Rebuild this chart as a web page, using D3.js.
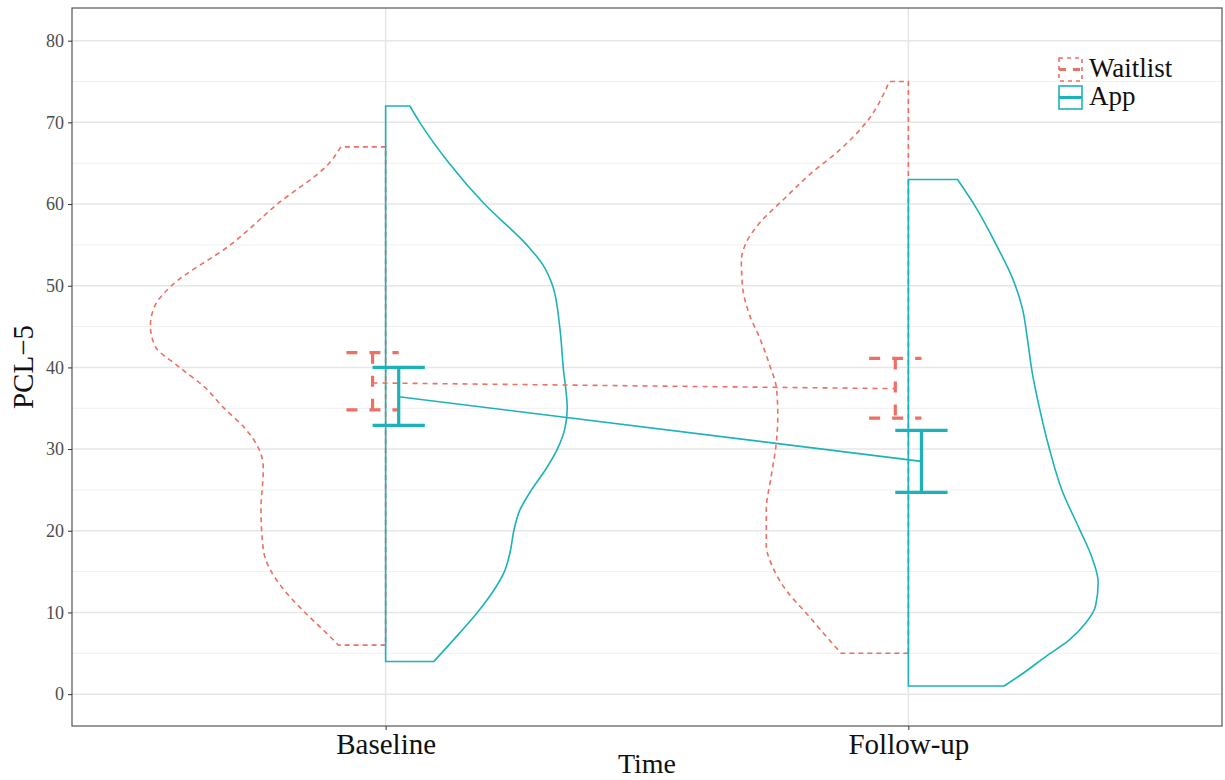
<!DOCTYPE html>
<html>
<head>
<meta charset="utf-8">
<script src="https://cdn.jsdelivr.net/npm/d3@7"></script>
<style>
  body { margin: 0; background: #fff; }
  svg { display: block; }
</style>
</head>
<body>
<div id="chart"></div>
<script>
// categories
const times = ["Baseline", "Follow-up"];
const groups = ["Waitlist", "App"];
const yTicks = [0, 10, 20, 30, 40, 50, 60, 70, 80];

// summary: mean with error bars, one value per time point
const waitlistMean = [38.1, 37.4];
const waitlistLow = [34.8, 33.8];
const waitlistHigh = [41.8, 41.1];
const appMean = [36.4, 28.5];
const appLow = [32.9, 24.7];
const appHigh = [40.0, 32.3];

// half-violin densities: [PCL-5 score, relative density]
const waitlistBaseline = [
  [6.0, 0.20], [7.7, 0.26], [10.2, 0.35], [12.7, 0.43], [15.2, 0.49], [17.7, 0.52],
  [22.6, 0.53], [27.6, 0.52], [30.1, 0.54], [32.6, 0.60], [35.1, 0.69], [37.6, 0.77],
  [40.1, 0.88], [42.6, 0.98], [45.1, 1.00], [47.6, 0.98], [50.0, 0.91], [55.0, 0.66],
  [60.0, 0.46], [65.0, 0.24], [67.0, 0.19]
];
const appBaseline = [
  [4.0, 0.205], [7.5, 0.315], [10.0, 0.39], [12.5, 0.455], [15.0, 0.505], [17.5, 0.53],
  [20.0, 0.545], [22.5, 0.57], [25.0, 0.62], [27.5, 0.68], [30.0, 0.73], [32.5, 0.762],
  [35.0, 0.772], [40.0, 0.755], [45.0, 0.74], [50.0, 0.71], [52.5, 0.67],
  [55.0, 0.6], [60.0, 0.42], [65.0, 0.27], [70.0, 0.145], [72.0, 0.103]
];
const waitlistFollowup = [
  [5.0, 0.286], [6.6, 0.335], [9.9, 0.434], [12.7, 0.519], [15.5, 0.576], [18.3, 0.604],
  [22.5, 0.604], [26.7, 0.583], [30.9, 0.561], [34.2, 0.555], [37.5, 0.561], [40.3, 0.59],
  [43.6, 0.632], [46.4, 0.675], [50.2, 0.706], [53.0, 0.71], [55.3, 0.689], [57.7, 0.632],
  [60.5, 0.533], [63.6, 0.42], [66.6, 0.293], [70.0, 0.179], [75.0, 0.081]
];
const appFollowup = [
  [1.0, 0.407], [2.5, 0.485], [4.6, 0.584], [6.6, 0.683], [8.7, 0.754], [10.8, 0.796],
  [13.7, 0.807], [16.6, 0.782], [20.3, 0.726], [24.8, 0.655], [30.2, 0.598], [35.2, 0.556],
  [39.3, 0.527], [43.5, 0.506], [47.2, 0.485], [50.9, 0.443], [55.1, 0.372], [59.6, 0.287],
  [63.0, 0.209]
];

const colors = { Waitlist: "#ee6f63", App: "#1cb3b8" };
const serif = "'Liberation Serif', 'DejaVu Serif', serif";

const W = 1225, H = 780;
const margin = { left: 72, right: 3, top: 8, bottom: 54 };

const svg = d3.select("#chart").append("svg")
  .attr("width", W)
  .attr("height", H);

// x is the discrete position (1, 2) with ggplot-style expansion
const x = d3.scaleLinear().domain([0.4, 2.6]).range([margin.left, W - margin.right]);
const y = d3.scaleLinear().domain([-3.9, 84]).range([H - margin.bottom, margin.top]);

const violinHalf = 0.45;  // max half-width in x units
const dodge = 0.025;
const capHalf = 0.05;

const panel = svg.append("g");

// grid
const minor = d3.range(5, 85, 10);
panel.selectAll("line.minor").data(minor).enter().append("line")
  .attr("x1", x(0.4)).attr("x2", x(2.6))
  .attr("y1", d => y(d)).attr("y2", d => y(d))
  .attr("stroke", "#f0f0f0").attr("stroke-width", 1);
panel.selectAll("line.major").data(yTicks).enter().append("line")
  .attr("x1", x(0.4)).attr("x2", x(2.6))
  .attr("y1", d => y(d)).attr("y2", d => y(d))
  .attr("stroke", "#e6e6e6").attr("stroke-width", 1.5);
panel.selectAll("line.vmajor").data([1, 2]).enter().append("line")
  .attr("x1", d => x(d)).attr("x2", d => x(d))
  .attr("y1", y(-3.9)).attr("y2", y(84))
  .attr("stroke", "#e6e6e6").attr("stroke-width", 1.5);

// half violins
const edgeLine = d3.line()
  .x(d => d[0])
  .y(d => d[1])
  .curve(d3.curveMonotoneY);

function halfViolin(pos, dens, side, group) {
  const cx = x(pos);
  const pts = dens.map(d => [x(pos + side * d[1] * violinHalf), y(d[0])]);
  const edge = edgeLine(pts);
  const lo = dens[0][0], hi = dens[dens.length - 1][0];
  const path = `M${cx},${y(lo)}L${edge.slice(1)}L${cx},${y(hi)}Z`;
  panel.append("path")
    .attr("d", path)
    .attr("fill", "none")
    .attr("stroke", colors[group])
    .attr("stroke-width", 1.6)
    .attr("stroke-dasharray", group === "Waitlist" ? "5,4" : null);
}

halfViolin(1, waitlistBaseline, -1, "Waitlist");
halfViolin(2, waitlistFollowup, -1, "Waitlist");
halfViolin(1, appBaseline, 1, "App");
halfViolin(2, appFollowup, 1, "App");

// mean lines
const meanLine = d3.line().x(d => x(d[0])).y(d => y(d[1]));
panel.append("path")
  .attr("d", meanLine(waitlistMean.map((m, i) => [i + 1 - dodge, m])))
  .attr("fill", "none").attr("stroke", colors.Waitlist)
  .attr("stroke-width", 1.6).attr("stroke-dasharray", "5,5");
panel.append("path")
  .attr("d", meanLine(appMean.map((m, i) => [i + 1 + dodge, m])))
  .attr("fill", "none").attr("stroke", colors.App)
  .attr("stroke-width", 1.6);

// error bars (drawn as one path like ggplot)
function errorbar(pos, lo, hi, group) {
  const p = d3.path();
  p.moveTo(x(pos - capHalf), y(hi));
  p.lineTo(x(pos + capHalf), y(hi));
  p.moveTo(x(pos), y(hi));
  p.lineTo(x(pos), y(lo));
  p.moveTo(x(pos - capHalf), y(lo));
  p.lineTo(x(pos + capHalf), y(lo));
  panel.append("path")
    .attr("d", p.toString())
    .attr("fill", "none")
    .attr("stroke", colors[group])
    .attr("stroke-width", 3.2)
    .attr("stroke-dasharray", group === "Waitlist" ? "11,12" : null);
}
times.forEach((t, i) => {
  errorbar(i + 1 - dodge, waitlistLow[i], waitlistHigh[i], "Waitlist");
  errorbar(i + 1 + dodge, appLow[i], appHigh[i], "App");
});

// panel border
svg.append("rect")
  .attr("x", x(0.4)).attr("y", y(84))
  .attr("width", x(2.6) - x(0.4)).attr("height", y(-3.9) - y(84))
  .attr("fill", "none").attr("stroke", "#555").attr("stroke-width", 1.2);

// axes
const yAxis = svg.append("g")
  .attr("transform", `translate(${x(0.4)},0)`)
  .call(d3.axisLeft(y).tickValues(yTicks).tickSize(4).tickPadding(4));
yAxis.select(".domain").remove();
yAxis.selectAll(".tick line").attr("stroke", "#333");
yAxis.selectAll(".tick text")
  .attr("font-family", serif).attr("font-size", 18).attr("fill", "#4d4d4d");

const xAxis = svg.append("g")
  .attr("transform", `translate(0,${y(-3.9)})`)
  .call(d3.axisBottom(x).tickValues([1, 2]).tickFormat((d, i) => times[i]).tickSize(4).tickPadding(3));
xAxis.select(".domain").remove();
xAxis.selectAll(".tick line").attr("stroke", "#333");
xAxis.selectAll(".tick text")
  .attr("font-family", serif).attr("font-size", 29).attr("fill", "#111");

// axis titles
svg.append("text")
  .attr("x", (x(0.4) + x(2.6)) / 2).attr("y", 773)
  .attr("text-anchor", "middle")
  .attr("font-family", serif).attr("font-size", 28).attr("fill", "#111")
  .text("Time");
svg.append("text")
  .attr("transform", `translate(33,${(y(84) + y(-3.9)) / 2}) rotate(-90)`)
  .attr("text-anchor", "middle")
  .attr("font-family", serif).attr("font-size", 29).attr("fill", "#111")
  .text("PCL\u22125");

// legend
const legend = svg.append("g").attr("transform", "translate(1058,57)");
groups.forEach((g, i) => {
  const row = legend.append("g").attr("transform", `translate(0,${i * 28})`);
  const dash = g === "Waitlist" ? "4,4" : null;
  row.append("rect")
    .attr("x", 1).attr("y", 1).attr("width", 23).attr("height", 23)
    .attr("fill", "none").attr("stroke", colors[g]).attr("stroke-width", 1.6)
    .attr("stroke-dasharray", dash);
  row.append("line")
    .attr("x1", 1).attr("x2", 24).attr("y1", 12.5).attr("y2", 12.5)
    .attr("stroke", colors[g]).attr("stroke-width", 3)
    .attr("stroke-dasharray", g === "Waitlist" ? "7,7" : null);
  row.append("text")
    .attr("x", 31).attr("y", 20)
    .attr("font-family", serif).attr("font-size", 27).attr("fill", "#111")
    .text(g);
});
</script>
</body>
</html>
